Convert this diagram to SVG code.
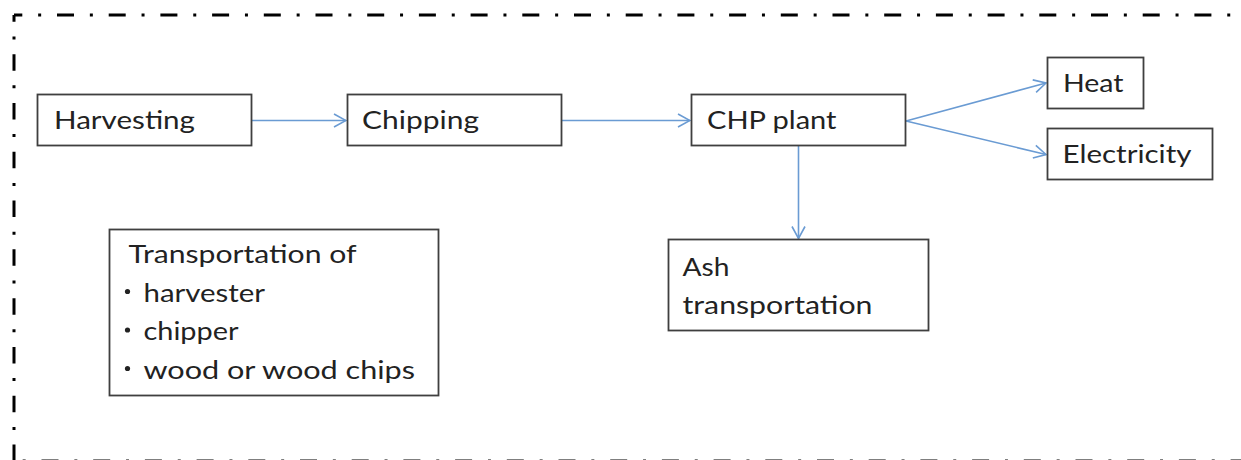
<svg xmlns="http://www.w3.org/2000/svg" width="1241" height="460" viewBox="0 0 1241 460">
  <defs>
    <style>
      .frame { fill: none; stroke: #000; stroke-width: 3; }
      .box { fill: #fff; stroke: #3f3f3f; stroke-width: 1.8; }
      .lbl { font-family: Lato, "Open Sans", sans-serif; font-size: 24.5px; fill: #222; }
      .flow { fill: none; stroke: #6a9bd3; stroke-width: 1.6; }
    </style>
    <marker id="arrow" viewBox="0 0 14 16" refX="13" refY="8" markerWidth="14" markerHeight="16" markerUnits="userSpaceOnUse" orient="auto">
      <path d="M1,1.5 L13,8 L1,14.5" fill="none" stroke="#6a9bd3" stroke-width="1.6"/>
    </marker>
  </defs>

  <rect width="1241" height="460" fill="#fff"/>

  <!-- dash-dot boundary -->
  <g id="boundary">
    <line class="frame" x1="14" y1="15" x2="1250" y2="15" stroke-dasharray="17 15.85 3 15.85" stroke-dashoffset="8.7"/>
    <line class="frame" x1="14" y1="15" x2="14" y2="470" stroke-dasharray="16.5 14.65 3 14.65" stroke-dashoffset="9.65"/>
    <line class="frame" x1="14" y1="461" x2="1250" y2="461" stroke="#999" stroke-dasharray="17 15.85 3 15.85" stroke-dashoffset="24.2"/>
  </g>

  <g id="connectors">
    <line class="flow" x1="252" y1="120.5" x2="346" y2="120.5" marker-end="url(#arrow)"/>
    <line class="flow" x1="562" y1="120.5" x2="690" y2="120.5" marker-end="url(#arrow)"/>
    <line class="flow" x1="906" y1="121" x2="1046" y2="83" marker-end="url(#arrow)"/>
    <line class="flow" x1="906" y1="121" x2="1046" y2="154.5" marker-end="url(#arrow)"/>
    <line class="flow" x1="798.5" y1="146" x2="798.5" y2="238.5" marker-end="url(#arrow)"/>
  </g>

  <g id="harvesting">
    <rect class="box" x="37.5" y="94.5" width="214" height="51"/>
    <text class="lbl" x="54" y="128.5" textLength="141" lengthAdjust="spacingAndGlyphs">Harvesting</text>
  </g>

  <g id="chipping">
    <rect class="box" x="347.5" y="94.5" width="214" height="51"/>
    <text class="lbl" x="362" y="128.5" textLength="117" lengthAdjust="spacingAndGlyphs">Chipping</text>
  </g>

  <g id="chp-plant">
    <rect class="box" x="691.5" y="94.5" width="214" height="51"/>
    <text class="lbl" x="707" y="128.5" textLength="129.5" lengthAdjust="spacingAndGlyphs">CHP plant</text>
  </g>

  <g id="heat">
    <rect class="box" x="1047.5" y="57.5" width="96" height="51"/>
    <text class="lbl" x="1063" y="91.5" textLength="60.5" lengthAdjust="spacingAndGlyphs">Heat</text>
  </g>

  <g id="electricity">
    <rect class="box" x="1047.5" y="128.5" width="165" height="51"/>
    <text class="lbl" x="1062.5" y="163" textLength="129" lengthAdjust="spacingAndGlyphs">Electricity</text>
  </g>

  <g id="ash-transportation">
    <rect class="box" x="668.5" y="239.5" width="260" height="91"/>
    <text class="lbl" x="682.5" y="276" textLength="47" lengthAdjust="spacingAndGlyphs">Ash</text>
    <text class="lbl" x="682.5" y="314" textLength="190" lengthAdjust="spacingAndGlyphs">transportation</text>
  </g>

  <g id="transportation">
    <rect class="box" x="109.5" y="229.5" width="329" height="166"/>
    <text class="lbl" x="128.5" y="263" textLength="228" lengthAdjust="spacingAndGlyphs">Transportation of</text>
    <circle cx="127.5" cy="291.5" r="2.6" fill="#222"/>
    <text class="lbl" x="143.5" y="301.5" textLength="121.5" lengthAdjust="spacingAndGlyphs">harvester</text>
    <circle cx="127.5" cy="330" r="2.6" fill="#222"/>
    <text class="lbl" x="143.5" y="340" textLength="95" lengthAdjust="spacingAndGlyphs">chipper</text>
    <circle cx="127.5" cy="368.5" r="2.6" fill="#222"/>
    <text class="lbl" x="143.5" y="378.5" textLength="271.5" lengthAdjust="spacingAndGlyphs">wood or wood chips</text>
  </g>
</svg>
